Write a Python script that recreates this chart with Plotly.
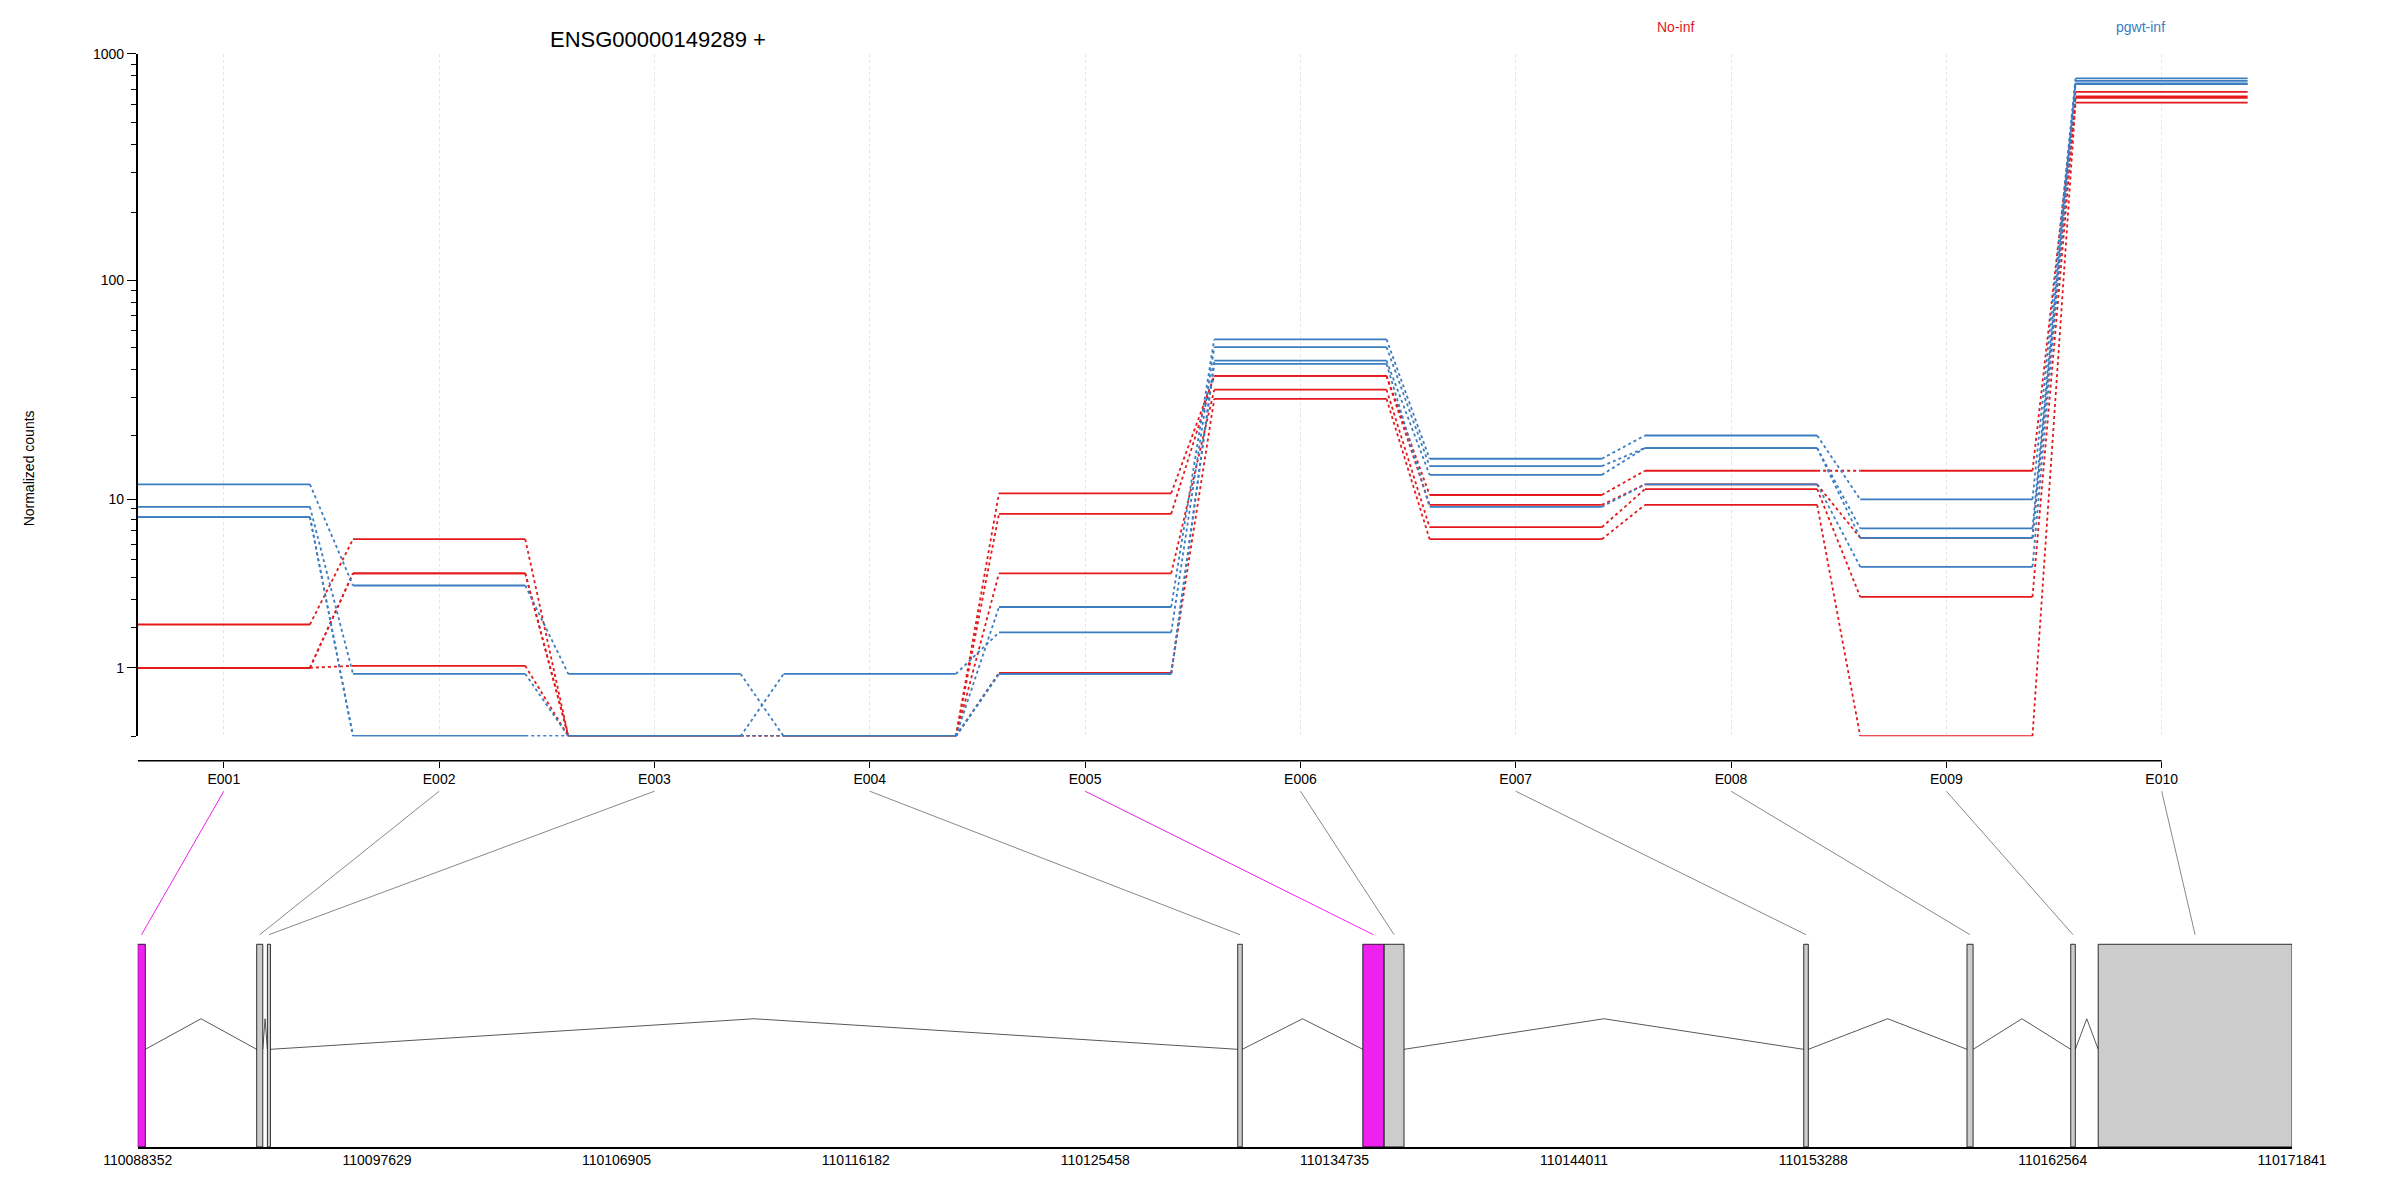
import numpy as np
import plotly.graph_objects as go

exons = ["E001", "E002", "E003", "E004", "E005", "E006", "E007", "E008", "E009", "E010"]

# normalized counts per sample
red_1 = [2.1, 6.35, 0, 0, 10.7, 37.4, 10.5, 13.7, 13.7, 680]
red_2 = [1.0, 4.2, 0, 0, 8.5, 37.4, 9.4, 11.8, 6.45, 650]
red_3 = [1.0, 4.2, 0, 0, 4.2, 32.4, 7.3, 11.2, 3.1, 640]
red_4 = [1.0, 1.04, 0, 0, 0.9, 29.4, 6.35, 9.4, 0, 610]
blue_1 = [11.8, 3.6, 0.88, 0, 2.7, 54.6, 15.6, 20.0, 10.0, 780]
blue_2 = [9.2, 0.88, 0, 0.88, 1.86, 50.4, 14.4, 17.5, 7.2, 760]
blue_3 = [8.2, 0, 0, 0, 0.88, 43.8, 13.1, 17.5, 6.45, 740]
blue_4 = [8.2, 0, 0, 0, 0.88, 42.4, 9.2, 11.8, 4.56, 735]

# gene model (genomic coordinates)
exon_start = [110088352, 110092964, 110093378, 110130982, 110135830, 110136658,
              110152918, 110159244, 110163265, 110164329]
exon_end = [110088648, 110093200, 110093496, 110131159, 110136658, 110137427,
            110153095, 110159481, 110163442, 110171841]
exon_hit = [True, False, False, False, True, False, False, False, False, False]
gene_ticks = [110088352, 110097629, 110106905, 110116182, 110125458,
              110134735, 110144011, 110153288, 110162564, 110171841]

RED = "#E3191C"
BLUE = "#3A7DC0"
MAGENTA = "#EE22EE"

W, H = 1573.0, 786.0  # reference layout units
def px(x): return x / W
def py(y): return 1 - y / H

top_dom = [px(85), px(1468)]
bot_dom = [px(85), px(1497)]

fig = go.Figure()

def add_sample(vals, color):
    v = np.log10(np.array(vals) + 1)
    sx, sy, dx, dy = [], [], [], []
    for i, val in enumerate(v):
        c = i + 1
        sx += [c - 0.4, c + 0.4, None]
        sy += [val, val, None]
        if i < len(v) - 1:
            dx += [c + 0.4, c + 0.6, None]
            dy += [val, v[i + 1], None]
    fig.add_trace(go.Scatter(x=sx, y=sy, mode="lines", line=dict(color=color, width=1.8),
                             showlegend=False, hoverinfo="skip"))
    fig.add_trace(go.Scatter(x=dx, y=dy, mode="lines",
                             line=dict(color=color, width=1.8, dash="dot"),
                             showlegend=False, hoverinfo="skip"))

for s in [red_1, red_2, red_3, red_4]:
    add_sample(s, RED)
for s in [blue_1, blue_2, blue_3, blue_4]:
    add_sample(s, BLUE)

# gene model exons
for s, e, hit in zip(exon_start, exon_end, exon_hit):
    fig.add_shape(type="rect", xref="x2", yref="y2", x0=s, x1=e, y0=0, y1=0.955,
                  fillcolor=MAGENTA if hit else "#CCCCCC", line=dict(color="black", width=0.8))

# introns
ix, iy = [], []
for i in range(len(exon_start) - 1):
    a, b = exon_end[i], exon_start[i + 1]
    if b <= a:
        continue
    ix += [a, (a + b) / 2, b, None]
    iy += [0.46, 0.604, 0.46, None]
fig.add_trace(go.Scatter(x=ix, y=iy, xaxis="x2", yaxis="y2", mode="lines",
                         line=dict(color="#444444", width=0.9), showlegend=False, hoverinfo="skip"))

# connectors from exon labels to gene model
g0, g1 = exon_start[0], exon_end[-1]
for i in range(len(exons)):
    xt = top_dom[0] + (i + 1 - 0.6) / 9.8 * (top_dom[1] - top_dom[0])
    mid = (exon_start[i] + exon_end[i]) / 2
    xb = bot_dom[0] + (mid - g0) / (g1 - g0) * (bot_dom[1] - bot_dom[0])
    fig.add_shape(type="line", xref="paper", yref="paper", x0=xt, y0=py(513), x1=xb, y1=py(607),
                  line=dict(color=MAGENTA if exon_hit[i] else "#888888", width=1))

# x axis line of top panel
fig.add_shape(type="line", xref="x", yref="paper", x0=0.6, x1=10, y0=py(493), y1=py(493),
              line=dict(color="black", width=1.5))

major = [1, 10, 100, 1000]
minor = [0] + [m * d for d in [1, 10, 100] for m in range(2, 10)]

fig.update_layout(
    width=2400, height=1200, margin=dict(l=0, r=0, t=0, b=0),
    paper_bgcolor="white", plot_bgcolor="white",
    font=dict(family="Liberation Sans, Arial", size=14, color="black"),
    xaxis=dict(domain=top_dom, range=[0.6, 10.4], anchor="free", position=py(493),
               automargin=False,
               tickvals=list(range(1, 11)), ticktext=exons, ticks="outside", ticklen=6,
               tickcolor="black", showline=False, zeroline=False,
               showgrid=True, gridcolor="#E8E0EC", griddash="dot", gridwidth=1),
    yaxis=dict(domain=[py(477), py(30)], range=[0, 3.0005], automargin=False,
               tickvals=np.log10(np.array(major) + 1), ticktext=[str(m) for m in major],
               ticks="outside", ticklen=9, tickcolor="black", showline=True, linecolor="black",
               linewidth=1.5, showgrid=False, zeroline=False,
               minor=dict(tickvals=list(np.log10(np.array(minor) + 1)), ticks="outside",
                          ticklen=5, tickcolor="black", showgrid=False)),
    xaxis2=dict(domain=bot_dom, range=[g0, g1], anchor="y2", tickvals=gene_ticks,
                automargin=False,
                ticktext=[str(t) for t in gene_ticks], ticks="", showline=True,
                linecolor="black", linewidth=1.5, showgrid=False, zeroline=False),
    yaxis2=dict(domain=[py(746), py(607)], range=[0, 1], anchor="x2", visible=False,
                automargin=False),
    annotations=[
        dict(text="ENSG00000149289 +", x=px(426), y=py(11), xref="paper", yref="paper",
             xanchor="center", showarrow=False, font=dict(size=22)),
        dict(text="No-inf", x=px(1093), y=py(6), xref="paper", yref="paper",
             xanchor="center", showarrow=False, font=dict(size=14, color=RED)),
        dict(text="pgwt-inf", x=px(1398), y=py(6), xref="paper", yref="paper",
             xanchor="center", showarrow=False, font=dict(size=14, color=BLUE)),
        dict(text="Normalized counts", x=px(14), y=py(262), xref="paper", yref="paper",
             xanchor="center", showarrow=False, textangle=-90, font=dict(size=14)),
    ],
)

fig.write_html("out.html")
